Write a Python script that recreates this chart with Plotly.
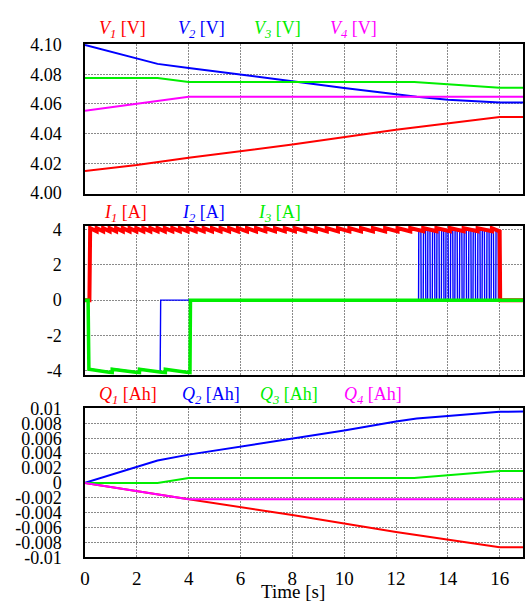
import plotly.graph_objects as go
from plotly.subplots import make_subplots

# ---------------- data ----------------
# Panel 1: cell voltages [V]
t_v1 = [0, 2, 4, 8, 12, 16, 16.9]
v1 = [4.0148, 4.0188, 4.0237, 4.0327, 4.0426, 4.0512, 4.0512]
t_v2 = [0, 2, 2.8, 4, 6, 8, 10, 12, 12.8, 14, 16, 16.9]
v2 = [4.0998, 4.0910, 4.0870, 4.0843, 4.0800, 4.0753, 4.0708, 4.0663, 4.0648, 4.0628, 4.0610, 4.0610]
t_v3 = [0, 2.8, 4, 12.7, 16, 16.9]
v3 = [4.0775, 4.0775, 4.0748, 4.0748, 4.0710, 4.0710]
t_v4 = [0, 4, 16.9]
v4 = [4.0555, 4.0648, 4.0648]

# Panel 2: currents [A]
i1_tooth_times = [0.2, 0.45, 0.7, 0.95, 1.2, 1.46, 1.72, 1.98, 2.25, 2.52, 2.8, 3.08,
                  3.37, 3.66, 3.96, 4.27, 4.58, 4.9, 5.23, 5.56, 5.9, 6.25, 6.6, 6.96,
                  7.33, 7.71, 8.1, 8.5, 8.91, 9.33, 9.76, 10.2, 10.65, 11.11, 11.58,
                  12.06, 12.55, 13.05, 13.56, 14.08, 14.61, 15.15, 15.7, 16.0]
i1_high, i1_low = 4.08, 3.9
i2_tooth_times = [0.15, 1.05, 2.1, 2.9]
i2_high, i2_low = -3.88, -4.1
i2_pulse_starts = [12.87, 13.05, 13.22, 13.40, 13.57, 13.75, 13.92, 14.10, 14.27,
                   14.45, 14.62, 14.80, 14.97, 15.15, 15.32, 15.50, 15.67, 15.85]
i2_pulse_width = 0.09
i2_pulse_level = 4.0
i3_tooth_times = [0.15, 1.05, 2.1, 3.1, 4.05]
i3_high, i3_low = -3.92, -4.12
t_end = 16.9

# Panel 3: charge [Ah]
t_q1 = [0, 2, 4, 8, 12, 16, 16.9]
q1 = [0, -0.00112, -0.0022, -0.0043, -0.00658, -0.00865, -0.00865]
t_q2 = [0, 2, 2.8, 4, 8, 10, 12, 12.8, 14, 16, 16.9]
q2 = [0, 0.0021, 0.0030, 0.0038, 0.0060, 0.00705, 0.00826, 0.00865, 0.0090, 0.00955, 0.0096]
t_q3 = [0, 2.8, 4, 12.7, 16, 16.9]
q3 = [0, 0, 0.00065, 0.00065, 0.0016, 0.0016]
t_q4 = [0, 4, 16.9]
q4 = [0, -0.0022, -0.0022]

x_ticks = [0, 2, 4, 6, 8, 10, 12, 14, 16]
v_ticks = [4.00, 4.02, 4.04, 4.06, 4.08, 4.10]
v_ticktext = ["4.00", "4.02", "4.04", "4.06", "4.08", "4.10"]
i_ticks = [-4, -2, 0, 2, 4]
i_ticktext = ["-4", "-2", "0", "2", "4"]
q_ticks = [-0.01, -0.008, -0.006, -0.004, -0.002, 0, 0.002, 0.004, 0.006, 0.008, 0.01]
q_ticktext = ["-0.01", "-0.008", "-0.006", "-0.004", "-0.002", "0",
              "0.002", "0.004", "0.006", "0.008", "0.01"]

RED, BLUE, GREEN, MAG = "#ff0000", "#0000ff", "#00ee00", "#ff00ff"


def sawtooth(times, hi, lo, start_level=0.0, end_level=0.0):
    xs, ys = [0, times[0] - 0.03], [start_level, start_level]
    for k in range(len(times) - 1):
        xs += [times[k], times[k + 1]]
        ys += [hi, lo]
    xs += [times[-1] + 0.02, t_end]
    ys += [end_level, end_level]
    return xs, ys


# ---------------- figure ----------------
fig = make_subplots(rows=3, cols=1)

fig.add_trace(go.Scatter(x=t_v1, y=v1, mode="lines", line=dict(color=RED, width=2)), row=1, col=1)
fig.add_trace(go.Scatter(x=t_v2, y=v2, mode="lines", line=dict(color=BLUE, width=2)), row=1, col=1)
fig.add_trace(go.Scatter(x=t_v3, y=v3, mode="lines", line=dict(color=GREEN, width=2)), row=1, col=1)
fig.add_trace(go.Scatter(x=t_v4, y=v4, mode="lines", line=dict(color=MAG, width=2)), row=1, col=1)

# I2 (blue): sawtooth near -4 then 0, then pulses
x2, y2 = sawtooth(i2_tooth_times, i2_high, i2_low)
x2 = x2[:-1]
y2 = y2[:-1]
for ps in i2_pulse_starts:
    x2 += [ps, ps + 0.01, ps + i2_pulse_width, ps + i2_pulse_width + 0.01]
    y2 += [0, i2_pulse_level, i2_pulse_level, 0]
x2 += [t_end]
y2 += [0]
fig.add_trace(go.Scatter(x=x2, y=y2, mode="lines", line=dict(color=BLUE, width=1.4)), row=2, col=1)

x1, y1 = sawtooth(i1_tooth_times, i1_high, i1_low)
fig.add_trace(go.Scatter(x=x1, y=y1, mode="lines", line=dict(color=RED, width=4)), row=2, col=1)

x3, y3 = sawtooth(i3_tooth_times, i3_high, i3_low)
fig.add_trace(go.Scatter(x=x3, y=y3, mode="lines", line=dict(color=GREEN, width=3.5)), row=2, col=1)

fig.add_trace(go.Scatter(x=t_q1, y=q1, mode="lines", line=dict(color=RED, width=2)), row=3, col=1)
fig.add_trace(go.Scatter(x=t_q2, y=q2, mode="lines", line=dict(color=BLUE, width=2)), row=3, col=1)
fig.add_trace(go.Scatter(x=t_q3, y=q3, mode="lines", line=dict(color=GREEN, width=2)), row=3, col=1)
fig.add_trace(go.Scatter(x=t_q4, y=q4, mode="lines", line=dict(color=MAG, width=2)), row=3, col=1)

W, H, L = 525, 608, 85
FONT = "Liberation Serif"


def py(p):
    return 1 - p / H


def px(p):
    return (p - L) / (W - L)


common_axis = dict(showline=True, linecolor="black", linewidth=1.5, mirror=True,
                   showgrid=True, gridcolor="#8a8a8a", gridwidth=1, griddash="2px,1px",
                   zeroline=False, ticks="")

fig.update_layout(
    width=W, height=H,
    margin=dict(l=L, r=0, t=0, b=0),
    paper_bgcolor="white", plot_bgcolor="white",
    showlegend=False,
)
for i, (ymin, ymax, dom, tv, tt) in enumerate([
        (3.9995, 4.1005, [py(190), py(35)], v_ticks, v_ticktext),
        (-4.22, 4.22, [py(377), py(223)], i_ticks, i_ticktext),
        (-0.01, 0.01, [py(566), py(412)], q_ticks, q_ticktext)], start=1):
    fig.update_yaxes(range=[ymin, ymax], domain=dom, tickvals=tv, ticktext=tt,
                     ticklabelstandoff=18, row=i, col=1,
                     tickfont=dict(family=FONT, size=18, color="black"), **common_axis)
    fig.update_xaxes(range=[0, 16.9], tickvals=x_ticks, domain=[0, 1],
                     showticklabels=(i == 3), ticklabelstandoff=3, row=i, col=1,
                     tickfont=dict(family=FONT, size=19, color="black"), **common_axis)

labels = [
    ("<i>V<sub>1</sub></i> [V]", RED, 97, 20), ("<i>V<sub>2</sub></i> [V]", BLUE, 176, 20),
    ("<i>V<sub>3</sub></i> [V]", GREEN, 253, 20), ("<i>V<sub>4</sub></i> [V]", MAG, 329, 20),
    ("<i>I<sub>1</sub></i> [A]", RED, 102, 210), ("<i>I<sub>2</sub></i> [A]", BLUE, 180, 210),
    ("<i>I<sub>3</sub></i> [A]", GREEN, 257, 210),
    ("<i>Q<sub>1</sub></i> [Ah]", RED, 97, 399), ("<i>Q<sub>2</sub></i> [Ah]", BLUE, 180, 399),
    ("<i>Q<sub>3</sub></i> [Ah]", GREEN, 259, 399), ("<i>Q<sub>4</sub></i> [Ah]", MAG, 343, 399),
]
for text, col, lx, ly in labels:
    fig.add_annotation(text=text, x=px(lx), y=py(ly), xref="paper", yref="paper",
                       xanchor="left", yanchor="middle", showarrow=False,
                       font=dict(family=FONT, size=18, color=col))

fig.add_annotation(text="Time [s]", x=px(294), y=py(597), xref="paper", yref="paper",
                   xanchor="center", yanchor="middle", showarrow=False, borderpad=0,
                   yshift=-4,
                   font=dict(family=FONT, size=19, color="black"))

fig.write_html("out.html")
